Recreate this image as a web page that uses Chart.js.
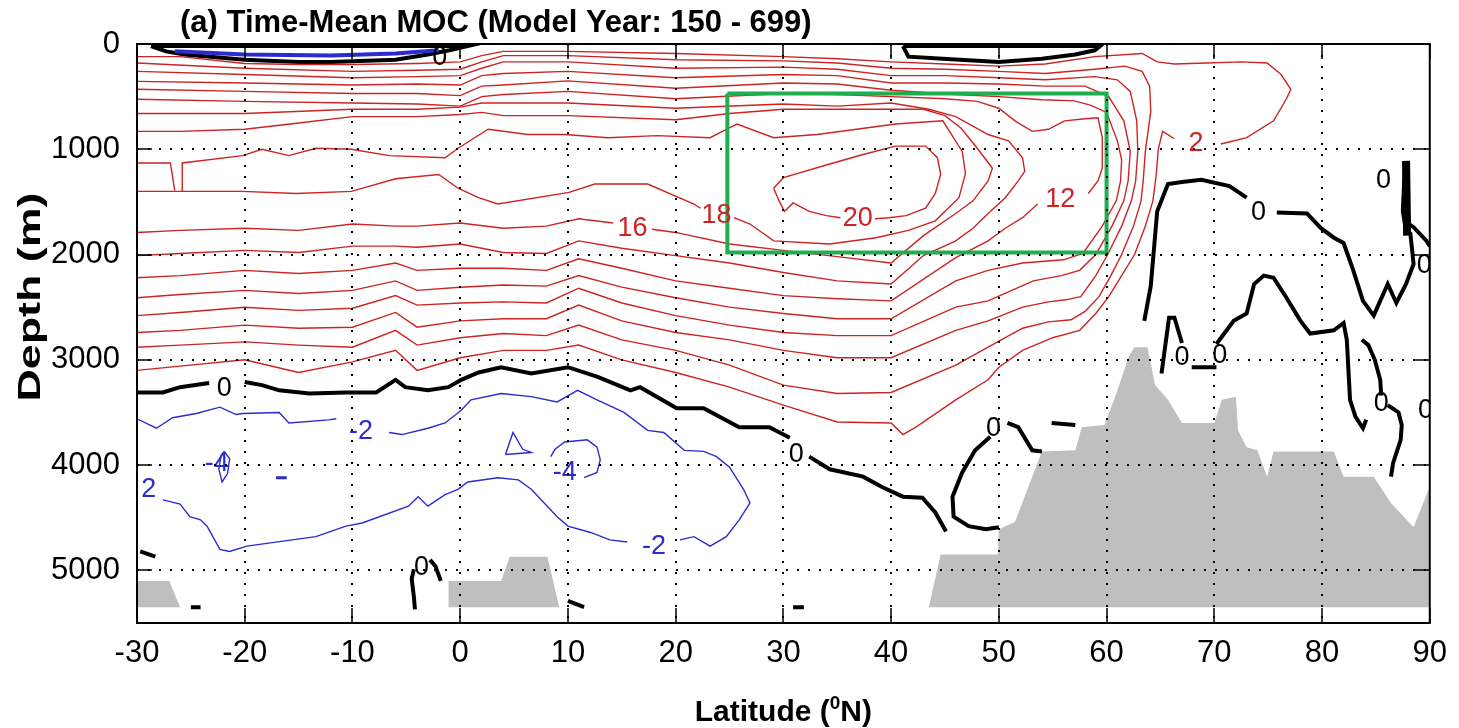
<!DOCTYPE html>
<html>
<head>
<meta charset="utf-8">
<script src="https://cdn.jsdelivr.net/npm/chart.js@4/dist/chart.umd.min.js"></script>
<style>
html, body { margin: 0; padding: 0; background: #fff; }
</style>
</head>
<body>
<canvas id="moc" width="1459" height="728"></canvas>
<script>
// axis ticks
const latTicks = [-30, -20, -10, 0, 10, 20, 30, 40, 50, 60, 70, 80, 90];
const depthTicks = [0, 1000, 2000, 3000, 4000, 5000];

// positive MOC contours (Sv), [latitude, depth m]; null = gap for a label
const psi2 = [[-30,120],[-26,120],[-20,185],[-15,195],[-10,195],[-4,185],[0,170],[2,110],[4,70],[10,70],[20,90],[30,120],[35,140],[40,170],[45,190],[50,210],[54.3,190],[58.9,120],[63.3,90],[64.7,170],[66.3,190],[69.3,180],[72.5,170],[74.9,180],[76.2,290],[77.1,430],[76.7,520],[75.5,730],[73,890],[70.6,950],null,[66.3,900],[65.2,830],[64.8,1000],[64.6,1250],[64.3,1490],[63.6,1730],[62.6,2000],[61.4,2200],[60.2,2400],[59,2560],[57.5,2720],[55,2790],[52.2,2910],[50,3070],[49,3190],[46,3380],[42.3,3640],[41.1,3710],[40,3600],[35,3590],[30,3430],[25,3260],[20,3120],[15,3000],[11,2860],[8,2910],[4,2910],[0,2980],[-4,3100],[-6,2910],[-10,3020],[-15,3120],[-20,3000],[-26,3060],[-30,3100]];
const psi4 = [[-30,180],[-20,230],[-10,260],[-4,250],[0,240],[2,170],[4,110],[10,110],[20,150],[30,160],[35,180],[40,230],[45,240],[50,260],[54.3,280],[58.9,240],[61.7,210],[63.3,260],[64,400],[64.1,640],[63.6,1020],[63.4,1300],[63.2,1490],[62.5,1730],[61.4,2000],[60.4,2200],[59.3,2400],[58,2540],[56.7,2620],[54.6,2640],[52.2,2700],[49,2880],[46,3050],[40,3310],[35,3320],[30,3240],[25,3050],[20,2910],[15,2810],[11,2670],[8,2770],[4,2750],[0,2790],[-4,2860],[-6,2720],[-10,2880],[-15,2860],[-20,2830],[-26,2860],[-30,2880]];
const psi6 = [[-30,260],[-20,290],[-10,320],[-4,310],[0,300],[2,230],[4,170],[10,170],[20,230],[30,220],[35,240],[40,300],[45,300],[50,320],[54.3,340],[58.9,310],[61,340],[62.2,450],[62.8,730],[62.9,1020],[62.7,1300],[62.3,1490],[61.4,1730],[60.1,2000],[59,2200],[57.6,2400],[56.2,2430],[54.6,2450],[52.2,2500],[49,2630],[46,2720],[40,2980],[35,2980],[30,2910],[25,2810],[20,2740],[15,2630],[11,2480],[8,2610],[4,2610],[0,2630],[-4,2690],[-6,2550],[-10,2690],[-15,2700],[-20,2670],[-26,2720],[-30,2740]];
const psi8 = [[-30,355],[-20,370],[-10,390],[-4,380],[0,390],[2,300],[4,280],[10,260],[20,320],[30,290],[35,300],[40,370],[45,370],[50,380],[54.3,400],[58,400],[60.2,500],[61.6,730],[62.2,1020],[62,1300],[61.6,1490],[60.5,1730],[59,2000],[57.5,2150],[55.8,2200],[53.2,2250],[49,2440],[46,2500],[40,2770],[35,2770],[30,2740],[25,2670],[20,2580],[15,2460],[11,2320],[8,2460],[4,2450],[0,2460],[-4,2480],[-6,2390],[-10,2510],[-15,2530],[-20,2500],[-26,2550],[-30,2580]];
const psi10 = [[-30,430],[-20,450],[-10,470],[-4,470],[0,490],[2,400],[4,390],[10,350],[20,420],[30,370],[35,380],[40,440],[46,480],[50,500],[54,530],[57,540],[58.5,580],[60,650],[61,920],[61.4,1100],[61.3,1300],[60.9,1490],[59.6,1730],[57.8,1990],[56,2050],[52.2,2080],[49,2150],[46,2250],[40,2610],[35,2610],[30,2560],[25,2500],[20,2410],[15,2310],[11,2200],[8,2300],[4,2290],[0,2310],[-4,2340],[-6,2250],[-10,2340],[-15,2370],[-20,2340],[-26,2380],[-30,2410]];
const psi12 = [[-30,525],[-20,545],[-10,560],[-4,570],[0,590],[2,500],[4,480],[10,450],[20,520],[30,470],[35,480],[40,500],[45,520],[48,545],[50,610],[51.5,730],[53.1,830],[54.6,810],[56.1,730],[58,710],[59.2,700],[59.6,890],[59.6,1180],[59.2,1300],[58.3,1420],null,[53.6,1520],[52.2,1650],[50.6,1750],[49,1870],[46,2030],[40,2440],[35,2420],[30,2390],[25,2320],[20,2250],[15,2130],[11,2040],[8,2150],[4,2130],[0,2130],[-4,2150],[-6,2080],[-10,2150],[-15,2180],[-20,2150],[-26,2200],[-30,2220]];
const psi14 = [[-30,660],[-20,660],[-10,620],[-4,620],[0,600],[2,560],[4,560],[10,560],[20,610],[30,570],[35,590],[40,560],[43.5,620],[46,690],[49,860],[50.9,920],[52.2,1080],[52.4,1210],[51.8,1300],[50.6,1460],[49,1610],[47.6,1750],[46,1870],[43,2010],[40,2280],[35,2250],[30,2170],[25,2080],[20,2010],[15,1940],[11,1870],[8,1990],[4,1980],[0,1900],[-4,1930],[-6,1920],[-10,1920],[-15,1980],[-20,1960],[-26,1990],[-30,2010]];
const psi16 = [[-30,830],[-26,830],[-20,810],[-15,750],[-10,690],[-4,690],[0,670],[2,650],[4,680],[10,680],[20,720],[25,660],[30,620],[35,620],[40,620],[43,620],[45,680],[46.5,800],[48,990],[49.4,1180],[49,1300],[47.6,1490],[46,1610],[43,1820],[40,2080],[35,2020],[30,1960],[25,1900],[20,1790],[17.8,1760],null,[14.2,1700],[11,1660],[8,1730],[4,1750],[0,1700],[-4,1730],[-6,1730],[-10,1710],[-15,1770],[-20,1750],[-26,1770],[-30,1790]];
const psi18 = [[-25.8,1400],[-25.8,1130],[-20.2,1060],[-18.4,1000],[-15.9,1060],[-13.4,990],[-10.1,1000],[-6.6,1060],[-1.4,1080],[-0.2,990],[2.6,810],[6.3,860],[9.7,860],[13.7,890],[18.3,870],[23.2,890],[24.7,810],[25.7,760],[29.1,890],[33.1,860],[36.8,810],[40.4,760],[44.8,730],[46.6,1020],[46.9,1230],[46.3,1460],[44.1,1680],[41.6,1770],[38.6,1840],[34.3,1900],[29.1,1870],[26.9,1710],[25.4,1650],null,[22.3,1560],[21.7,1520],[17.4,1330],[12.5,1330],[10.1,1410],[3.5,1520],[1.7,1460],[-0.2,1370],[-2,1240],[-6,1280],[-10.1,1400],[-15.2,1420],[-20.2,1400],[-25.8,1400],[-30,1400]];
const psi18w = [[-30,1130],[-26.9,1130],[-26.5,1390]];
const psi20 = [[29.1,1370],[30,1270],[34.3,1140],[37.4,1050],[40.4,970],[43.2,970],[44.3,1080],[44.6,1240],[44.1,1420],[43.2,1560],[41.4,1630],[39.8,1650],[38.5,1660],null,[35.3,1650],[34,1630],[32.4,1590],[30.9,1510],[30.1,1590],[29.6,1490],[29.1,1370]];

// zero contours
const zeroDeep = [[-30,3310],[-27.6,3310],[-26,3260],[-23.3,3220],null,[-20,3210],[-18.4,3240],[-16.8,3290],[-14,3320],[-10.6,3310],[-7.8,3310],[-6,3190],[-5.1,3260],[-3,3290],[-1.1,3260],[0.1,3190],[1.7,3120],[3.8,3070],[6.6,3130],[10,3070],[12.7,3160],[15.8,3290],[16.7,3260],[20.1,3460],[22.6,3460],[25.9,3640],[28.7,3640],[30.6,3740],null,[32.4,3920],[34.3,4040],[37.4,4110],[39.2,4210],[41.1,4300],[42.9,4310],[44.1,4450],[45.1,4630]];
const zeroLensW = [[-28.7,20],[-27.3,70],[-25.6,100],[-20,150],[-15,170],[-12,170],[-6,150],[-3,100],[-1,60],[0.7,20],[-28.7,20]];
const zeroLensE = [[41.1,20],[41.6,120],[44.8,140],[50,170],[54,140],[57.1,100],[58.9,60],[59.4,20],[41.1,20]];
const zeroLoop50 = [[49.2,3730],[47.8,3860],[46.6,4070],[45.7,4300],[45.8,4490],[47.2,4580],[48.8,4610],[50,4590]];
const zeroTail50 = [[50.8,3600],[51.8,3640],[53.1,3860],[54,3870]];
const zeroDash50 = [[54.9,3600],[57.1,3620]];
const zeroNorthOuter = [[63.5,2630],[64.1,2300],[64.7,1590],[65.7,1330],[67,1310],[68.8,1290],[71.4,1350],[73,1460],null,[75.8,1600],[78.6,1610],[79.9,1750],[81.1,1840],[82,1890],[82.9,2150],[83.8,2440],[84.8,2580],[85.4,2440],[86.1,2280],[86.9,2460],[87.8,2280],[88.5,2090],[88.2,1800],[87.8,1770],[87.5,1590],[87.7,1140]];
const zeroNorthBar = [[87.8,1110],[87.9,1820]];
const zeroNorthEdge = [[87.9,1700],[88.5,1740],[89.7,1870],[90,1920]];
const zeroNorthInner = [[65.1,3130],[65.8,2600],[66.3,2600],[67,2840],null,[67.9,3070],[70.2,3070],null,[70.2,2850],[71.8,2630],[73,2560],[73.7,2280],[74.6,2200],[75.5,2220],[76.7,2410],[78,2630],[78.9,2750],[81.1,2720],[82,2650],[82.3,2810],[82.5,3190],[82.6,3380],[83.1,3540],[83.8,3650],[84.1,3570]];
const zeroNorthHook = [[83.7,2810],[84.3,2860],[84.9,3000],[85.4,3190],[85.5,3340],null,[86.1,3430],[87.1,3500],[87.4,3620],[87.3,3760],[86.6,3980],[86.4,4110]];
const zeroBits = [
	[[-29.7,4820],[-28.3,4870]],
	[[-25,5350],[-24.1,5350]],
	[[-4.2,5370],[-4.3,5250],[-4.5,5080],[-4.3,4990]],
	[[-2.8,4900],[-2.3,4960],[-1.8,5100]],
	[[10,5290],[11.5,5350]],
	[[30.9,5350],[31.9,5350]]
];

// negative contours
const neg2 = [[-30,3560],[-28.2,3650],[-26.7,3550],[-24.5,3510],[-22.3,3450],[-20.8,3520],[-20.2,3510],[-16.8,3500],[-15.9,3600],[-12.2,3570],[-11.5,3560],null,[-6.6,3690],[-5.4,3710],[-3,3650],[-1.4,3600],[0.1,3480],[1,3380],[3.8,3320],[6.6,3350],[9,3400],[10.9,3290],[12.7,3380],[15.2,3500],[17.4,3670],[18.9,3690],[20.8,3860],[22.6,3870],[23.8,3920],[25,4020],[26.3,4230],[26.9,4360],[25.9,4520],[24.7,4680],[23.2,4770],[21.7,4680],[20.4,4710],null,[15.5,4730],[13.9,4710],[12.1,4640],[10,4580],[9,4490],[6.6,4230],[5.4,4140],[3.5,4120],[0.7,4160],[-0.2,4230],[-1.4,4280],[-3,4390],[-3.9,4300],[-4.8,4390],[-9.1,4550],[-10.6,4580],[-13.4,4680],[-19.8,4770],[-21.4,4820],[-22.3,4800],[-23.5,4580],[-24.1,4520],[-25.1,4490],[-26,4370],[-27.6,4330]];
const neg4a = [[-21.9,3870],[-21.4,3940],[-21.6,4080],[-22.1,4160],[-22.4,4040],[-22.2,3910],[-21.9,3870]];
const neg4b = [[11.5,4120],[12.7,4070],[13,3950],[12.7,3830],[11.8,3760],[9.7,3780],[8.8,3850],[8.4,3920]];
const negTri = [[4.2,3900],[4.9,3690],[5.8,3850],[6.6,3880],[4.2,3900]];
const negDash = [[-17.1,4120],[-16.1,4120]];
const negLens = [[-26.5,70],[-20,100],[-12,110],[-6,90],[-2,60]];

// topography (grey)
const bathyW = [[-30,5100],[-27,5100],[-26,5350]];
const bathyMid = [[-1.1,5350],[-1.1,5100],[3.8,5100],[4.6,4870],[8.1,4870],[9.2,5350]];
const bathyE = [[43.5,5350],[44.6,4850],[49.9,4850],[50,4610],[51.5,4540],[53.1,4110],[54,3870],[57.1,3860],[57.7,3640],[59.8,3620],[60.8,3350],[62.1,2960],[62.6,2880],[63.8,2880],[64.5,3240],[65.7,3380],[67,3600],[70,3600],[70.7,3380],[72,3350],[72.2,3670],[73,3830],[74,3860],[74.9,4110],[75.5,3870],[81.1,3870],[82,4110],[84.8,4110],[86.4,4360],[88.5,4590],[89.9,4230],[90,4230]];
const seabed = 5350;

// highlighted box
const box = [[24.8,470],[60,470],[60,1980],[24.8,1980],[24.8,470]];

// contour labels
const redLabels = [[16.0,1750,'16'],[23.8,1630,'18'],[36.9,1660,'20'],[55.7,1480,'12'],[68.3,950,'2']];
const blueLabels = [[-9.2,3680,'-2'],[-22.6,3990,'-4'],[-28.9,4230,'2'],[9.7,4070,'-4'],[18,4770,'-2']];
const zeroLabels = [[-21.9,3270],[31.2,3900],[49.5,3650],[74.1,1600],[67,2980],[70.5,2960],[85.7,1300],[89.5,2100],[85.5,3420],[89.6,3480],[-3.6,4970],[-1.9,130]];

const RED = '#cc2424', BLUE = '#2b2bd0', GREY = '#bfbfbf';
const font = '"Liberation Sans", Arial, Helvetica, sans-serif';

function pts(arr) {
	return arr.map(p => p ? { x: p[0], y: p[1] } : { x: null, y: null });
}
function line(arr, color, width, extra) {
	return Object.assign({ data: pts(arr), showLine: true, borderColor: color, borderWidth: width,
		pointRadius: 0, fill: false, spanGaps: false }, extra || {});
}

const datasets = [
	line(box, '#1fae4e', 4),
	line(psi2, RED, 1.4), line(psi4, RED, 1.4), line(psi6, RED, 1.4), line(psi8, RED, 1.4),
	line(psi10, RED, 1.4), line(psi12, RED, 1.4), line(psi14, RED, 1.4), line(psi16, RED, 1.4),
	line(psi18, RED, 1.4), line(psi18w, RED, 1.4), line(psi20, RED, 1.4),
	line(neg2, BLUE, 1.4), line(neg4a, BLUE, 1.4), line(neg4b, BLUE, 1.4), line(negTri, BLUE, 1.4),
	line(negDash, BLUE, 3), line(negLens, BLUE, 4),
	line(zeroDeep, '#000', 4), line(zeroLensW, '#000', 4), line(zeroLensE, '#000', 4),
	line(zeroLoop50, '#000', 4), line(zeroTail50, '#000', 4), line(zeroDash50, '#000', 4),
	line(zeroNorthOuter, '#000', 4), line(zeroNorthBar, '#000', 8), line(zeroNorthEdge, '#000', 4),
	line(zeroNorthInner, '#000', 4), line(zeroNorthHook, '#000', 4),
	...zeroBits.map(b => line(b, '#000', 4)),
	line(bathyW, 'rgba(0,0,0,0)', 0, { backgroundColor: GREY, fill: { value: seabed }, order: 5 }),
	line(bathyMid, 'rgba(0,0,0,0)', 0, { backgroundColor: GREY, fill: { value: seabed }, order: 5 }),
	line(bathyE, 'rgba(0,0,0,0)', 0, { backgroundColor: GREY, fill: { value: seabed }, order: 5 })
];

const overlay = {
	id: 'overlay',
	afterDatasetsDraw(chart) {
		const { ctx, chartArea: a, scales: { x, y } } = chart;
		ctx.save();
		ctx.beginPath();
		ctx.rect(a.left, a.top, a.right - a.left, a.bottom - a.top);
		ctx.clip();
		ctx.font = '27px ' + font;
		ctx.textAlign = 'center';
		ctx.textBaseline = 'middle';
		redLabels.forEach(l => { ctx.fillStyle = RED; ctx.fillText(l[2], x.getPixelForValue(l[0]), y.getPixelForValue(l[1])); });
		blueLabels.forEach(l => { ctx.fillStyle = BLUE; ctx.fillText(l[2], x.getPixelForValue(l[0]), y.getPixelForValue(l[1])); });
		zeroLabels.forEach(l => { ctx.fillStyle = '#000'; ctx.fillText('0', x.getPixelForValue(l[0]), y.getPixelForValue(l[1])); });

		// dotted grid on top, like the original
		ctx.strokeStyle = '#000';
		ctx.lineWidth = 2;
		ctx.setLineDash([2, 9]);
		latTicks.slice(1, -1).forEach(v => {
			const px = Math.round(x.getPixelForValue(v));
			ctx.beginPath(); ctx.moveTo(px, a.top); ctx.lineTo(px, a.bottom); ctx.stroke();
		});
		depthTicks.slice(1).forEach(v => {
			const py = Math.round(y.getPixelForValue(v));
			ctx.beginPath(); ctx.moveTo(a.left, py); ctx.lineTo(a.right, py); ctx.stroke();
		});
		ctx.restore();

		// inward ticks and frame
		ctx.save();
		ctx.strokeStyle = '#000';
		ctx.lineWidth = 1.5;
		latTicks.forEach(v => {
			const px = Math.round(x.getPixelForValue(v));
			ctx.beginPath();
			ctx.moveTo(px, a.bottom); ctx.lineTo(px, a.bottom - 15);
			ctx.moveTo(px, a.top); ctx.lineTo(px, a.top + 15);
			ctx.stroke();
		});
		depthTicks.forEach(v => {
			const py = Math.round(y.getPixelForValue(v));
			ctx.beginPath();
			ctx.moveTo(a.left, py); ctx.lineTo(a.left + 15, py);
			ctx.moveTo(a.right, py); ctx.lineTo(a.right - 15, py);
			ctx.stroke();
		});
		ctx.lineWidth = 2;
		ctx.strokeRect(a.left, a.top, a.right - a.left, a.bottom - a.top);
		ctx.restore();
	},
	afterDraw(chart) {
		const { ctx, chartArea: a } = chart;
		ctx.save();
		ctx.fillStyle = '#000';
		ctx.font = 'bold 31px ' + font;
		ctx.textAlign = 'left';
		ctx.textBaseline = 'alphabetic';
		ctx.fillText('(a) Time-Mean MOC (Model Year: 150 - 699)', 180, 32);

		// x axis title with superscript 0
		const big = 'bold 30px ' + font, small = 'bold 19px ' + font;
		ctx.font = big;
		const w1 = ctx.measureText('Latitude (').width;
		const w3 = ctx.measureText('N)').width;
		ctx.font = small;
		const w2 = ctx.measureText('0').width;
		let sx = (a.left + a.right) / 2 - (w1 + w2 + w3) / 2;
		const base = 721;
		ctx.font = big; ctx.fillText('Latitude (', sx, base); sx += w1;
		ctx.font = small; ctx.fillText('0', sx, base - 12); sx += w2;
		ctx.font = big; ctx.fillText('N)', sx, base);

		// y axis title, stretched along its length like the original image
		ctx.translate(31, 297);
		ctx.rotate(-Math.PI / 2);
		ctx.scale(1.4, 1);
		ctx.textAlign = 'center';
		ctx.textBaseline = 'middle';
		ctx.font = 'bold 32px ' + font;
		ctx.fillText('Depth (m)', 0, 0);
		ctx.restore();
	}
};

new Chart(document.getElementById('moc'), {
	type: 'scatter',
	data: { datasets },
	options: {
		responsive: false,
		animation: false,
		devicePixelRatio: 1,
		layout: { padding: { left: 0, right: 22, top: 44, bottom: 0 } },
		plugins: { legend: { display: false }, tooltip: { enabled: false }, title: { display: false } },
		scales: {
			x: {
				type: 'linear', min: -30, max: 90,
				grid: { display: false, drawTicks: false }, border: { display: false },
				ticks: { color: '#000', font: { family: font, size: 31 }, padding: 12, maxRotation: 0, autoSkip: false },
				afterBuildTicks: s => { s.ticks = latTicks.map(v => ({ value: v })); },
				afterFit: s => { s.height = 105; }
			},
			y: {
				type: 'linear', reverse: true, min: 0, max: 5500,
				grid: { display: false, drawTicks: false }, border: { display: false },
				ticks: {
					autoSkip: false, color: '#000', font: { family: font, size: 31 }, padding: 17,
					callback: v => String(v)
				},
				afterBuildTicks: s => { s.ticks = depthTicks.map(v => ({ value: v })); },
				afterFit: s => { s.width = 137; }
			}
		}
	},
	plugins: [overlay]
});
</script>
</body>
</html>
